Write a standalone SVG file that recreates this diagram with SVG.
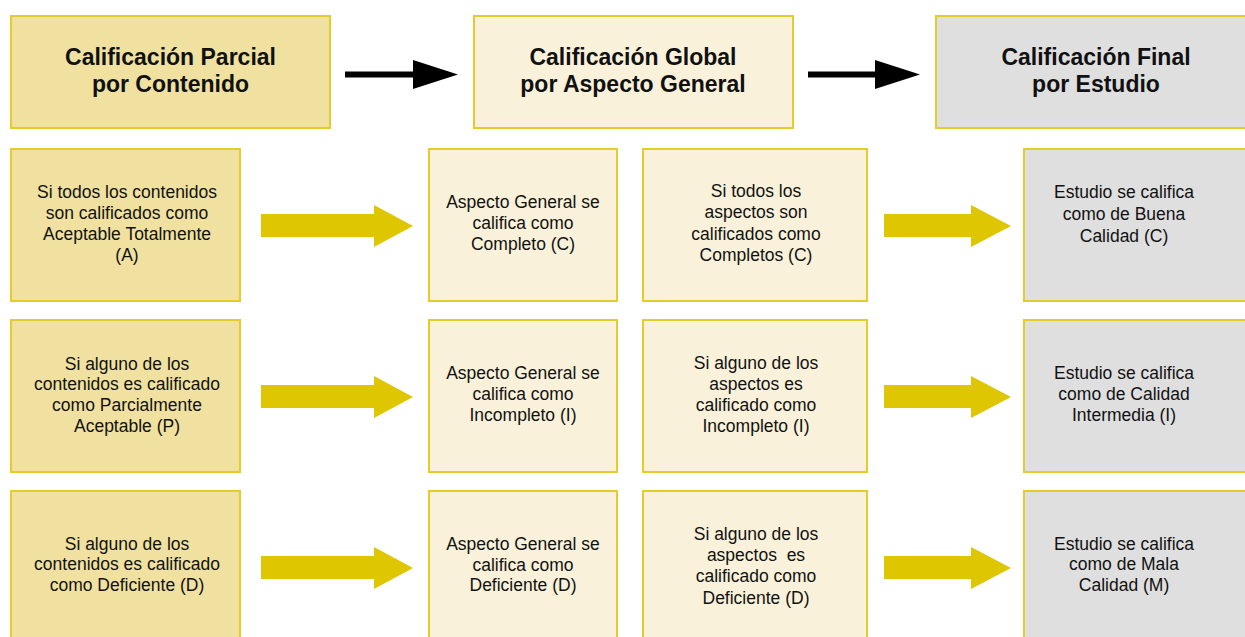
<svg xmlns="http://www.w3.org/2000/svg" width="1245" height="637" viewBox="0 0 1245 637">
<style>
.box{stroke:#E4CD2A;stroke-width:2}
.c1{fill:#F0E1A0}
.c2{fill:#FAF1DA}
.c4{fill:#DFDFDF}
.h{font-family:"Liberation Sans Narrow","Liberation Sans",Arial,sans-serif;font-weight:bold;font-size:23px;fill:#111;text-anchor:middle}
.t{font-family:"Liberation Sans Narrow","Liberation Sans",Arial,sans-serif;font-size:17.5px;fill:#111;text-anchor:middle}
.ya{fill:#DEC600}
.ba{fill:#000}
</style>
<rect width="1245" height="637" fill="#fff"/>

<g id="hdr1"><rect class="box c1" x="11" y="16" width="319" height="112"/>
<text class="h" x="170.5" y="65">Calificación Parcial</text><text class="h" x="170.5" y="92">por Contenido</text></g>
<g id="hdr2"><rect class="box c2" x="474" y="16" width="319" height="112"/>
<text class="h" x="633" y="65">Calificación Global</text><text class="h" x="633" y="92">por Aspecto General</text></g>
<g id="hdr3"><rect class="box c4" x="936" y="16" width="330" height="112"/>
<text class="h" x="1096" y="65">Calificación Final</text><text class="h" x="1096" y="92">por Estudio</text></g>

<g id="r1c1"><rect class="box c1" x="11" y="149" width="229" height="152"/>
<text class="t" x="127" y="198">Si todos los contenidos</text><text class="t" x="127" y="219">son calificados como</text><text class="t" x="127" y="240">Aceptable Totalmente</text><text class="t" x="127" y="261">(A)</text></g>
<g id="r1c2"><rect class="box c2" x="429" y="149" width="188" height="152"/>
<text class="t" x="523" y="208">Aspecto General se</text><text class="t" x="523" y="229">califica como</text><text class="t" x="523" y="250">Completo (C)</text></g>
<g id="r1c3"><rect class="box c2" x="643" y="149" width="224" height="152"/>
<text class="t" x="756" y="197">Si todos los</text><text class="t" x="756" y="218">aspectos son</text><text class="t" x="756" y="240">calificados como</text><text class="t" x="756" y="261">Completos (C)</text></g>
<g id="r1c4"><rect class="box c4" x="1024" y="149" width="240" height="152"/>
<text class="t" x="1124" y="198">Estudio se califica</text><text class="t" x="1124" y="220">como de Buena</text><text class="t" x="1124" y="242">Calidad (C)</text></g>

<g id="r2c1"><rect class="box c1" x="11" y="320" width="229" height="152"/>
<text class="t" x="127" y="370">Si alguno de los</text><text class="t" x="127" y="390">contenidos es calificado</text><text class="t" x="127" y="411">como Parcialmente</text><text class="t" x="127" y="432">Aceptable (P)</text></g>
<g id="r2c2"><rect class="box c2" x="429" y="320" width="188" height="152"/>
<text class="t" x="523" y="379">Aspecto General se</text><text class="t" x="523" y="400">califica como</text><text class="t" x="523" y="421">Incompleto (I)</text></g>
<g id="r2c3"><rect class="box c2" x="643" y="320" width="224" height="152"/>
<text class="t" x="756" y="369">Si alguno de los</text><text class="t" x="756" y="390">aspectos es</text><text class="t" x="756" y="411">calificado como</text><text class="t" x="756" y="432">Incompleto (I)</text></g>
<g id="r2c4"><rect class="box c4" x="1024" y="320" width="240" height="152"/>
<text class="t" x="1124" y="379">Estudio se califica</text><text class="t" x="1124" y="400">como de Calidad</text><text class="t" x="1124" y="421">Intermedia (I)</text></g>

<g id="r3c1"><rect class="box c1" x="11" y="491" width="229" height="160"/>
<text class="t" x="127" y="550">Si alguno de los</text><text class="t" x="127" y="570">contenidos es calificado</text><text class="t" x="127" y="591">como Deficiente (D)</text></g>
<g id="r3c2"><rect class="box c2" x="429" y="491" width="188" height="160"/>
<text class="t" x="523" y="550">Aspecto General se</text><text class="t" x="523" y="571">califica como</text><text class="t" x="523" y="591">Deficiente (D)</text></g>
<g id="r3c3"><rect class="box c2" x="643" y="491" width="224" height="160"/>
<text class="t" x="756" y="540">Si alguno de los</text><text class="t" x="756" y="561" xml:space="preserve">aspectos  es</text><text class="t" x="756" y="582">calificado como</text><text class="t" x="756" y="604">Deficiente (D)</text></g>
<g id="r3c4"><rect class="box c4" x="1024" y="491" width="240" height="160"/>
<text class="t" x="1124" y="550">Estudio se califica</text><text class="t" x="1124" y="570">como de Mala</text><text class="t" x="1124" y="591">Calidad (M)</text></g>

<g id="connectors">
<polygon class="ba" points="345,71.5 413,71.5 413,60 458,74.5 413,89 413,77.5 345,77.5"/>
<polygon class="ba" points="808,71.5 875,71.5 875,60 920,74.5 875,89 875,77.5 808,77.5"/>
<polygon class="ya" points="261,214 374,214 374,205 413,226 374,247 374,237 261,237"/>
<polygon class="ya" points="884,214 971,214 971,205 1011,226 971,247 971,237 884,237"/>
<polygon class="ya" points="261,385 374,385 374,376 413,397 374,418 374,408 261,408"/>
<polygon class="ya" points="884,385 971,385 971,376 1011,397 971,418 971,408 884,408"/>
<polygon class="ya" points="261,556 374,556 374,547 413,568 374,589 374,579 261,579"/>
<polygon class="ya" points="884,556 971,556 971,547 1011,568 971,589 971,579 884,579"/>
</g>
</svg>
